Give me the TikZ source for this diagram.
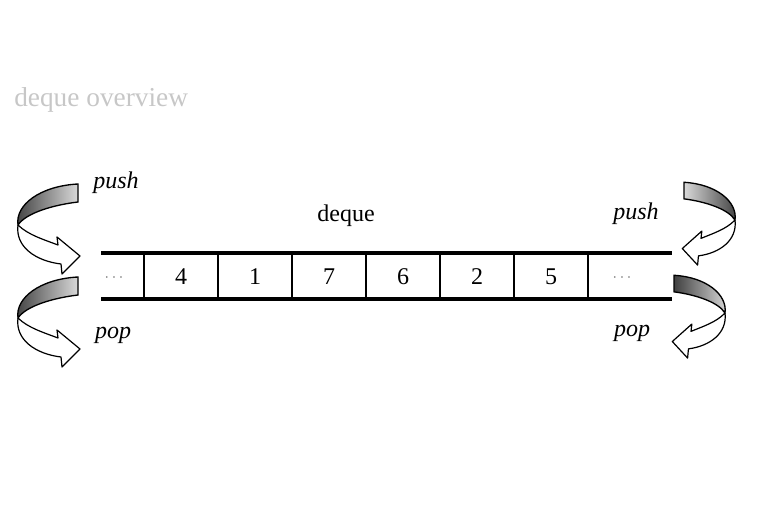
\documentclass[tikz,border=0pt]{standalone}
\usepackage{fontspec}
\setmainfont{Liberation Serif}
\begin{document}
\begin{tikzpicture}[x=0.75pt,y=-0.75pt,
  txt/.style={font=\fontsize{18}{20}\selectfont, inner sep=0pt},
  itxt/.style={font=\fontsize{18}{20}\selectfont\itshape, inner sep=0pt},
  dots/.style={font=\fontsize{12}{14}\selectfont, text=black!55, inner sep=0pt},
  rail/.style={line width=3.6pt},
  divider/.style={line width=1.1pt},
  bandshade/.style={left color=black!75, right color=black!15},
  band/.style={draw=black, line width=1pt, bandshade},
  arrowbody/.style={draw=black, line width=0.9pt, fill=white, line join=round},
  curlyarrow/.pic={
    \path[band] (0,0) .. controls (-3,-20) and (22,-39) .. (60,-41) -- (60,-23)
      .. controls (35,-20) and (8,-12) .. (0,0) -- cycle;
    \path[arrowbody] (0,0) .. controls (10,10) and (27,15) .. (40,20) -- (39,12)
      -- (62,31) -- (44,49) -- (43,39) .. controls (18,36) and (-3,22) .. (0,0) -- cycle;
  }
]
\useasboundingbox (0,0) rectangle (757,520);

% faint title
\node[font=\fontsize{20.5}{22}\selectfont, inner sep=0pt, text=black!22, anchor=west] (title) at (14,100) {deque overview};

% rails
\coordinate (tl) at (101,253);
\coordinate (tr) at (672,253);
\coordinate (bl) at (101,299);
\coordinate (br) at (672,299);
\draw[rail] (tl) -- (tr);
\draw[rail] (bl) -- (br);

% dividers
\foreach \x [count=\i] in {144,218,292,366,440,514,588}{
  \coordinate (dt\i) at (\x,253);
  \coordinate (db\i) at (\x,299);
  \draw[divider] (dt\i) -- (db\i);
}

% cell contents
\node[dots] (c0) at (114,278) {$\cdots$};
\node[txt] (c1) at (181,277) {4};
\node[txt] (c2) at (255,277) {1};
\node[txt] (c3) at (329,277) {7};
\node[txt] (c4) at (403,277) {6};
\node[txt] (c5) at (477,277) {2};
\node[txt] (c6) at (551,277) {5};
\node[dots] (c7) at (622,278) {$\cdots$};

\node[txt] (deque) at (346,216) {deque};

% labels
\node[itxt] (pushL) at (116,183) {push};
\node[itxt] (popL) at (113,335) {pop};
\node[itxt] (pushR) at (636,214) {push};
\node[itxt] (popR) at (632,333) {pop};

% curved arrows
\pic at (18,225) {curlyarrow};
\pic at (18,318) {curlyarrow};
\pic[xscale=-0.85, yscale=0.92, bandshade/.style={left color=black!15, right color=black!75}] at (735,220) {curlyarrow};
\pic[xscale=-0.85, yscale=0.92] at (725,313) {curlyarrow};
\end{tikzpicture}
\end{document}
